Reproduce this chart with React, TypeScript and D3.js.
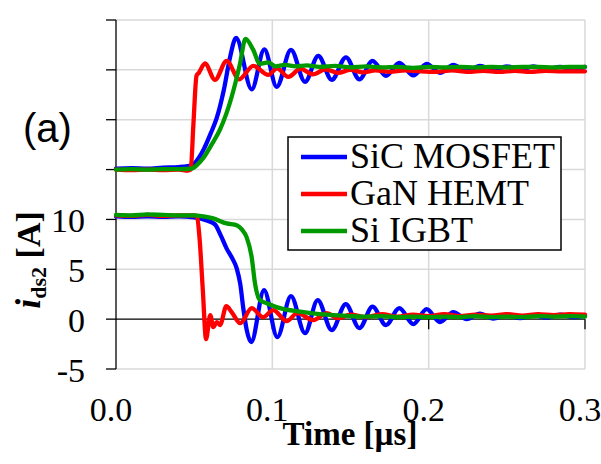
import React from "react";
import * as d3 from "d3";

const xTicks = [0, 0.1, 0.2, 0.3];
const xTickLabels = ["0.0", "0.1", "0.2", "0.3"];
const yTicks = [-5, 0, 5, 10, 15, 20, 25, 30];
const yLabeledTicks = [-5, 0, 5, 10];
const seriesNames = ["SiC MOSFET", "GaN HEMT", "Si IGBT"];

// SiC MOSFET – upper trace
const sicTop: [number, number][] = [
  [0, 15.1], [0.01, 15.15], [0.02, 15.1], [0.03, 15.2], [0.04, 15.25], [0.046, 15.35],
  [0.05, 15.6], [0.053, 16.2], [0.056, 17.0], [0.0605, 18.6], [0.0645, 20.2], [0.069, 23.0],
  [0.073, 26.3], [0.0768, 28.2], [0.0868, 23.05], [0.0949, 27.05], [0.1028, 23.3], [0.1119, 27.0],
  [0.1209, 23.8], [0.1294, 26.4], [0.138, 24.0], [0.1471, 26.25], [0.1557, 24.05], [0.1641, 25.9],
  [0.1727, 24.4], [0.1812, 25.7], [0.1902, 24.45], [0.1987, 25.6], [0.2072, 24.7], [0.2158, 25.5],
  [0.2243, 24.85], [0.2328, 25.4], [0.2413, 24.95], [0.25, 25.35], [0.2585, 25.0], [0.267, 25.35],
  [0.2755, 25.05], [0.284, 25.3], [0.2925, 25.05], [0.3, 25.3],
];
// GaN HEMT – upper trace
const ganTop: [number, number][] = [
  [0, 15.0], [0.01, 14.95], [0.02, 15.0], [0.03, 14.95], [0.04, 15.0], [0.046, 14.9],
  [0.0478, 15.0], [0.0495, 19.5], [0.0515, 24.4], [0.053, 24.7], [0.0569, 25.65], [0.0633, 24.0],
  [0.0708, 25.9], [0.0788, 24.05], [0.0878, 25.4], [0.0974, 24.5], [0.103, 25.15], [0.1102, 24.3],
  [0.118, 25.1], [0.126, 24.55], [0.134, 25.05], [0.142, 24.7], [0.15, 25.0], [0.158, 24.75],
  [0.166, 24.95], [0.175, 24.8], [0.185, 24.95], [0.195, 24.85], [0.205, 24.8], [0.215, 24.95],
  [0.225, 24.8], [0.235, 24.9], [0.245, 24.8], [0.255, 24.9], [0.265, 24.8], [0.275, 24.9],
  [0.285, 24.85], [0.3, 24.85],
];
// Si IGBT – upper trace
const igbtTop: [number, number][] = [
  [0, 15.0], [0.01, 15.05], [0.02, 15.0], [0.03, 15.05], [0.04, 15.05], [0.0484, 15.1],
  [0.052, 15.5], [0.056, 16.2], [0.0615, 17.6], [0.0665, 19.0], [0.074, 22.3], [0.0793, 25.6],
  [0.0828, 28.1], [0.0878, 27.0], [0.092, 25.6], [0.0975, 25.75], [0.102, 25.35], [0.108, 25.5],
  [0.115, 25.35], [0.122, 25.45], [0.13, 25.3], [0.14, 25.4], [0.15, 25.25], [0.16, 25.35],
  [0.17, 25.25], [0.18, 25.3], [0.19, 25.2], [0.2, 25.3], [0.21, 25.25], [0.22, 25.3],
  [0.23, 25.25], [0.24, 25.3], [0.25, 25.25], [0.26, 25.3], [0.27, 25.3], [0.28, 25.25],
  [0.29, 25.3], [0.3, 25.3],
];
// SiC MOSFET – i_ds2
const sicBottom: [number, number][] = [
  [0, 10.3], [0.01, 10.25], [0.02, 10.3], [0.03, 10.25], [0.04, 10.3], [0.05, 10.2],
  [0.0537, 10.1], [0.058, 9.9], [0.0633, 9.5], [0.067, 8.4], [0.0707, 7.1], [0.074, 6.2],
  [0.0772, 5.1], [0.0795, 3.5], [0.0815, 1.0], [0.0835, -1.0], [0.0865, -2.3], [0.0947, 2.9],
  [0.1032, -1.8], [0.1119, 2.3], [0.1209, -1.4], [0.129, 1.9], [0.138, -1.1], [0.147, 1.5],
  [0.1557, -0.9], [0.1641, 1.25], [0.1727, -0.6], [0.1812, 1.1], [0.1902, -0.5], [0.1987, 1.0],
  [0.2072, -0.3], [0.2158, 0.7], [0.2243, 0.0], [0.2328, 0.55], [0.2413, 0.05], [0.25, 0.45],
  [0.2585, 0.1], [0.267, 0.4], [0.2755, 0.15], [0.284, 0.45], [0.2925, 0.2], [0.3, 0.35],
];
// GaN HEMT – i_ds2
const ganBottom: [number, number][] = [
  [0, 10.4], [0.01, 10.35], [0.02, 10.45], [0.03, 10.35], [0.04, 10.4], [0.05, 10.4],
  [0.0518, 10.3], [0.0535, 8.0], [0.0555, 3.0], [0.0576, -2.0], [0.0603, 0.4], [0.0622, -0.8],
  [0.0645, -0.3], [0.0665, -0.6], [0.0706, 1.3], [0.074, 0.7], [0.0795, -0.4], [0.0868, 1.1],
  [0.094, 0.2], [0.1006, 0.9], [0.1092, -0.2], [0.116, 0.6], [0.1262, -0.1], [0.1348, 0.6],
  [0.142, 0.1], [0.15, 0.45], [0.16, 0.2], [0.17, 0.5], [0.18, 0.25], [0.19, 0.45],
  [0.2, 0.3], [0.21, 0.5], [0.22, 0.3], [0.23, 0.45], [0.24, 0.35], [0.25, 0.5],
  [0.26, 0.35], [0.27, 0.5], [0.28, 0.4], [0.29, 0.5], [0.3, 0.45],
];
// Si IGBT – i_ds2
const igbtBottom: [number, number][] = [
  [0, 10.45], [0.01, 10.4], [0.02, 10.5], [0.03, 10.45], [0.04, 10.4], [0.05, 10.4],
  [0.056, 10.3], [0.0622, 10.1], [0.0707, 9.6], [0.0775, 9.4], [0.0805, 9.0], [0.0836, 8.2],
  [0.0868, 6.2], [0.0889, 3.6], [0.0921, 1.9], [0.0964, 1.6], [0.1049, 1.1], [0.1177, 0.75],
  [0.13, 0.5], [0.139, 0.4], [0.15, 0.3], [0.16, 0.25], [0.17, 0.3], [0.18, 0.2],
  [0.19, 0.25], [0.2, 0.2], [0.21, 0.25], [0.22, 0.2], [0.23, 0.3], [0.24, 0.2],
  [0.25, 0.25], [0.26, 0.2], [0.27, 0.3], [0.28, 0.25], [0.29, 0.3], [0.3, 0.25],
];

const colors = ["#0000ff", "#ff0000", "#009a00"];
const SERIF = '"Liberation Serif"';
const SANS = '"Liberation Sans"';

export default function App() {
  const W = 601;
  const H = 464;
  const x = d3.scaleLinear().domain([0, 0.3]).range([116, 585]);
  const y = d3.scaleLinear().domain([-5, 30]).range([369, 20]);
  const line = d3
    .line<[number, number]>()
    .x((d) => x(d[0]))
    .y((d) => y(d[1]))
    .curve(d3.curveMonotoneX);

  const traces = [
    { data: sicTop, c: 0 },
    { data: sicBottom, c: 0 },
    { data: ganTop, c: 1 },
    { data: ganBottom, c: 1 },
    { data: igbtTop, c: 2 },
    { data: igbtBottom, c: 2 },
  ];

  const grid = "#d9d9d9";

  return (
    <svg
      width={W}
      height={H}
      fontFamily={SERIF}
      style={{ position: "absolute", left: 0, top: 0, background: "#fff" }}
    >
      {yTicks
        .filter((v) => v !== 0)
        .map((v) => (
          <line key={"hg" + v} x1={x(0)} x2={x(0.3)} y1={y(v)} y2={y(v)} stroke={grid} strokeWidth={1.5} />
        ))}
      {xTicks
        .filter((t) => t !== 0)
        .map((t) => (
          <line key={"vg" + t} x1={x(t)} x2={x(t)} y1={y(30)} y2={y(-5)} stroke={grid} strokeWidth={1.5} />
        ))}
      <line x1={x(0)} x2={x(0.3)} y1={y(0)} y2={y(0)} stroke="#000" strokeWidth={1.3} />
      {xTicks
        .filter((t) => t !== 0)
        .map((t) => (
          <line key={"xt" + t} x1={x(t)} x2={x(t)} y1={y(0)} y2={y(0) + 10} stroke="#000" strokeWidth={1.3} />
        ))}
      <line x1={x(0)} x2={x(0)} y1={y(30)} y2={y(-5)} stroke="#000" strokeWidth={1.3} />
      {yTicks.map((v) => (
        <line key={"yt" + v} x1={x(0) - 10} x2={x(0)} y1={y(v)} y2={y(v)} stroke="#000" strokeWidth={1.3} />
      ))}
      {traces.map((tr, i) => (
        <path
          key={"tr" + i}
          d={line(tr.data) || ""}
          fill="none"
          stroke={colors[tr.c]}
          strokeWidth={4.3}
          strokeLinejoin="round"
          strokeLinecap="round"
        />
      ))}
      {yLabeledTicks.map((v) => (
        <text key={"yl" + v} x={85} y={y(v) + 12.5} textAnchor="end" fontFamily={SERIF} fontSize={34} fill="#000">
          {String(v)}
        </text>
      ))}
      {xTicks.map((t, i) => (
        <text key={"xl" + t} x={x(t) - 5} y={421} textAnchor="middle" fontFamily={SERIF} fontSize={34} fill="#000">
          {xTickLabels[i]}
        </text>
      ))}
      <text x={350} y={445} textAnchor="middle" fontFamily={SERIF} fontSize={33} fontWeight="bold" fill="#000">
        Time [µs]
      </text>
      <text
        transform="translate(40,260) rotate(-90)"
        textAnchor="middle"
        fontFamily={SERIF}
        fontSize={34}
        fontWeight="bold"
        fill="#000"
      >
        <tspan fontStyle="italic" fontSize={36}>i</tspan>
        <tspan fontSize={22} dy={6}>ds2</tspan>
        <tspan dy={-6}> [A]</tspan>
      </text>
      <text x={23} y={142} fontFamily={SANS} fontSize={40} fill="#000">
        (a)
      </text>
      <rect x={288} y={137} width={273} height={113} fill="#fff" stroke="#000" strokeWidth={1.5} />
      {seriesNames.map((n, i) => (
        <g key={"lg" + i}>
          <line x1={301} x2={347} y1={157 + i * 37} y2={157 + i * 37} stroke={colors[i]} strokeWidth={4.3} />
          <text x={350} y={168 + i * 37} fontFamily={SERIF} fontSize={36} fill="#000">
            {n}
          </text>
        </g>
      ))}
    </svg>
  );
}
